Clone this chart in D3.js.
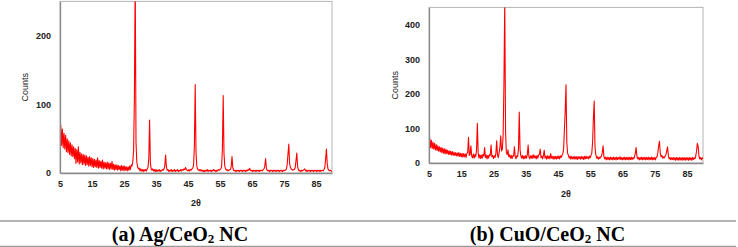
<!DOCTYPE html>
<html><head><meta charset="utf-8">
<script src="https://cdn.jsdelivr.net/npm/d3@7"></script>
<style>body{margin:0;background:#fff}svg{display:block}</style>
</head><body>
<svg id="c" width="738" height="247"></svg>
<script>
// 2θ grid: 5 → 90 step 0.25
const thetaStart = 5, thetaStep = 0.25;
const xTicks = [5, 15, 25, 35, 45, 55, 65, 75, 85];
const yTicksA = [0, 100, 200];
const yTicksB = [0, 100, 200, 300, 400];
const captions = ["Ag/CeO", "CuO/CeO"];

// Panel (a) Ag/CeO2 counts, one row per 5°
const countsA = [
  44,70,40,64,37,58,35,55,31,50,30,47,27,44,25,41,24,38,21,36,
  14,34,16,38,13,30,15,28,12,27,13,26,11,25,12,23,10,24,11,22,
  9,21,8,20,9,19,8,22,7,18,8,17,7,19,6,16,7,15,6,16,
  6,15,5,14,6,17,5,13,4,12,5,12,4,11,5,10,3,11,4,10,
  3,10,4,9,3,9,4,10,5,12,10,16,32,110,290,45,16,9,6,7,
  3,6,3,5,2,5,3,5,3,6,8,22,77,14,6,4,6,3,5,2,
  5,2,4,3,5,2,4,3,5,4,6,10,26,9,4,5,2,4,3,5,
  2,4,3,5,2,4,3,5,2,4,3,5,3,5,4,6,5,8,5,4,
  3,5,3,5,4,6,7,12,40,129,30,10,6,4,5,3,5,3,4,2,
  4,2,4,3,5,2,4,3,4,2,4,3,5,3,4,2,4,3,5,4,
  5,6,9,35,113,28,10,6,4,5,3,4,5,5,9,24,8,4,3,4,
  2,4,3,4,2,4,3,4,2,4,3,4,2,4,3,5,4,7,4,3,
  4,2,4,3,4,2,4,3,4,2,4,3,4,3,5,6,10,21,7,4,
  3,4,2,4,3,4,2,4,3,4,2,4,3,4,2,4,3,4,2,4,
  3,4,4,6,12,28,42,14,8,6,5,4,5,5,8,18,29,9,5,3,
  4,2,4,3,4,5,6,3,4,2,4,3,4,2,4,3,4,2,4,3,
  4,2,4,3,4,2,4,3,4,3,5,8,20,35,14,6,4,3,4,3,
  2
];

// Panel (b) CuO/CeO2 counts, one row per 5°
const countsB = [
  48,72,44,66,42,60,40,57,38,53,36,50,34,47,32,45,30,43,28,41,
  26,40,27,37,25,35,24,34,23,33,22,31,22,30,21,29,20,30,19,28,
  18,28,17,27,18,26,16,28,30,74,22,25,50,20,15,26,14,25,18,38,
  115,30,14,24,13,23,14,25,20,45,16,23,12,22,14,24,22,52,18,22,
  13,21,16,28,64,22,16,30,45,79,35,40,80,230,470,90,30,24,38,18,
  24,14,22,13,21,20,47,18,12,21,18,40,147,38,20,14,22,12,20,13,
  21,14,24,52,18,12,21,14,22,13,24,15,20,12,22,14,23,25,40,15,
  20,12,22,37,14,20,11,21,13,20,12,27,14,19,11,20,12,19,11,20,
  13,20,12,21,16,22,26,40,95,150,226,60,28,22,14,20,11,19,12,18,
  11,19,12,18,10,19,12,18,11,19,12,18,10,19,12,20,13,18,12,20,
  15,22,28,60,130,179,45,24,14,18,11,17,13,18,20,30,50,20,12,17,
  9,17,10,16,9,17,10,16,9,17,10,16,9,17,10,16,11,18,10,16,
  9,16,10,17,9,16,10,17,9,16,10,17,10,16,12,18,28,45,20,12,
  16,9,16,10,17,9,16,10,17,9,16,10,17,9,16,10,17,9,16,10,
  16,9,17,18,30,50,63,28,18,22,14,18,15,20,24,35,47,22,12,16,
  9,15,10,16,9,15,8,16,9,15,8,16,9,15,8,16,9,15,8,16,
  9,15,8,16,9,15,8,16,10,15,12,20,35,57,48,20,12,16,9,15,
  12
];

const svg = d3.select("#c");
const red = "#ff0000";

function panel(id, counts, yMax, yTicks, box, labY, thetaY) {
  const x = d3.scaleLinear().domain([5, 90]).range([box.x0, box.x1]);
  const y = d3.scaleLinear().domain([0, yMax]).range([box.y0, box.y1]);
  const g = svg.append("g");
  // frame
  g.append("rect").attr("x", box.x0).attr("y", box.y1)
    .attr("width", box.x1 - box.x0).attr("height", box.y0 - box.y1)
    .attr("fill", "none").attr("stroke", "#b4b4b4").attr("stroke-width", 1);
  g.append("clipPath").attr("id", id).append("rect")
    .attr("x", box.x0).attr("y", box.y1)
    .attr("width", box.x1 - box.x0).attr("height", box.y0 - box.y1);
  const pts = counts.map((c, i) => [thetaStart + i * thetaStep, c]);
  g.append("path").datum(pts)
    .attr("clip-path", `url(#${id})`)
    .attr("fill", "none").attr("stroke", red).attr("stroke-width", 1.1)
    .attr("stroke-linejoin", "round")
    .attr("d", d3.line().x(d => x(d[0])).y(d => y(d[1])));
  // axes
  const xa = g.append("g").attr("transform", `translate(0,${box.y0})`)
    .call(d3.axisBottom(x).tickValues(xTicks).tickSize(0).tickPadding(8));
  const ya = g.append("g").attr("transform", `translate(${box.x0},0)`)
    .call(d3.axisLeft(y).tickValues(yTicks).tickSize(0).tickPadding(9));
  [xa, ya].forEach(a => {
    a.select(".domain").attr("stroke", "#8a8a8a").attr("stroke-width", 1.3);
    a.selectAll("text").attr("font-family", "Liberation Sans, Arial, sans-serif")
      .attr("font-size", 9).attr("font-weight", "bold").attr("fill", "#222");
  });
  g.append("text").attr("transform", `translate(${labY},${(box.y0 + box.y1) / 2}) rotate(-90)`)
    .attr("text-anchor", "middle").attr("dy", "0.35em")
    .attr("font-family", "Liberation Sans, Arial, sans-serif").attr("font-size", 9)
    .attr("fill", "#222").text("Counts");
  g.append("text").attr("x", (box.x0 + box.x1) / 2).attr("y", thetaY)
    .attr("text-anchor", "middle").attr("dy", "0.35em")
    .attr("font-family", "Liberation Sans, Arial, sans-serif").attr("font-size", 9)
    .attr("font-weight", "bold").attr("fill", "#222").text("2θ");
}

panel("ca", countsA, 250, yTicksA, {x0: 60, x1: 332, y0: 173, y1: 1.4}, 25, 203);
panel("cb", countsB, 450, yTicksB, {x0: 429, x1: 703, y0: 163, y1: 7.4}, 394.5, 193.5);

// caption rows
svg.append("line").attr("x1", 0).attr("x2", 736).attr("y1", 221).attr("y2", 221)
  .attr("stroke", "#9a9a9a").attr("stroke-width", 1.3);
svg.append("line").attr("x1", 0).attr("x2", 736).attr("y1", 246.3).attr("y2", 246.3)
  .attr("stroke", "#9a9a9a").attr("stroke-width", 1.3);
const capX = [180, 547.5], capPre = ["(a) ", "(b) "];
captions.forEach((c, i) => {
  const t = svg.append("text").attr("x", capX[i]).attr("y", 240.5)
    .attr("text-anchor", "middle")
    .attr("font-family", "Liberation Serif, 'Times New Roman', serif")
    .attr("font-size", 20).attr("font-weight", "bold").attr("fill", "#000");
  t.append("tspan").text(capPre[i] + c);
  t.append("tspan").attr("font-size", 13).attr("dy", 2).text("2");
  t.append("tspan").attr("dy", -2).text(" NC");
});
</script>
</body></html>
